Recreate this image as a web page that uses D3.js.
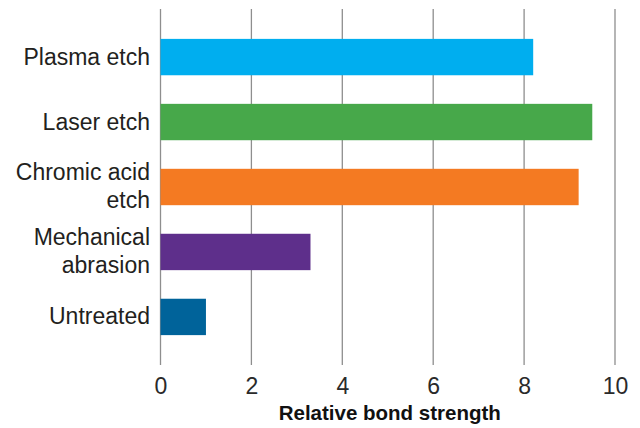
<!DOCTYPE html>
<html>
<head>
<meta charset="utf-8">
<script src="https://cdn.jsdelivr.net/npm/d3@7"></script>
<style>
  body { margin: 0; background: #fff; }
  svg { display: block; }
</style>
</head>
<body>
<script>
const categories = ["Plasma etch", "Laser etch", "Chromic acid etch", "Mechanical abrasion", "Untreated"];
const labelLines = [["Plasma etch"], ["Laser etch"], ["Chromic acid", "etch"], ["Mechanical", "abrasion"], ["Untreated"]];
const values = [8.2, 9.5, 9.2, 3.3, 1.0];
const colors = ["#00aeef", "#47a84a", "#f47a22", "#5e2f8b", "#00639a"];
const xTicks = [0, 2, 4, 6, 8, 10];
const xTitle = "Relative bond strength";

const W = 640, H = 428;
const svg = d3.select("body").append("svg").attr("width", W).attr("height", H);

const x = d3.scaleLinear().domain([0, 10]).range([160.5, 615]);
const y = d3.scaleBand().domain(categories).range([9, 365]).paddingInner(0.44).paddingOuter(0.46);

const font = "'Liberation Sans', Arial, Helvetica, sans-serif";

// gridlines
svg.append("g").selectAll("line").data(xTicks).join("line")
  .attr("x1", d => x(d)).attr("x2", d => x(d))
  .attr("y1", 9).attr("y2", 365)
  .attr("stroke", "#8e8e8e").attr("stroke-width", 1.3);

// bars
svg.append("g").selectAll("rect").data(categories).join("rect")
  .attr("x", x(0))
  .attr("y", d => y(d))
  .attr("width", (d, i) => x(values[i]) - x(0))
  .attr("height", y.bandwidth())
  .attr("fill", (d, i) => colors[i]);

// x axis tick labels
const xAxis = d3.axisBottom(x).tickValues(xTicks).tickSize(0).tickPadding(0).tickFormat(d3.format("d"));
const gx = svg.append("g").attr("transform", "translate(0,378)").call(xAxis);
gx.select(".domain").remove();
gx.selectAll("text")
  .attr("font-family", font).attr("font-size", 23).attr("fill", "#2a2a2a")
  .attr("dy", "0.71em");

// category labels
const gy = svg.append("g");
categories.forEach((c, i) => {
  const cy = y(c) + y.bandwidth() / 2;
  const lines = labelLines[i];
  const t = gy.append("text")
    .attr("text-anchor", "end")
    .attr("font-family", font).attr("font-size", 23).attr("fill", "#231f20");
  if (lines.length === 1) {
    t.append("tspan").attr("x", 150).attr("y", cy + 7.5).text(lines[0]);
  } else {
    t.append("tspan").attr("x", 150).attr("y", cy - 7).text(lines[0]);
    t.append("tspan").attr("x", 150).attr("y", cy + 21).text(lines[1]);
  }
});

// axis title
svg.append("text")
  .attr("x", (x(0) + x(10)) / 2 + 2).attr("y", 420)
  .attr("text-anchor", "middle")
  .attr("font-family", font).attr("font-size", 20.5).attr("font-weight", "bold")
  .attr("fill", "#111")
  .text(xTitle);
</script>
</body>
</html>
